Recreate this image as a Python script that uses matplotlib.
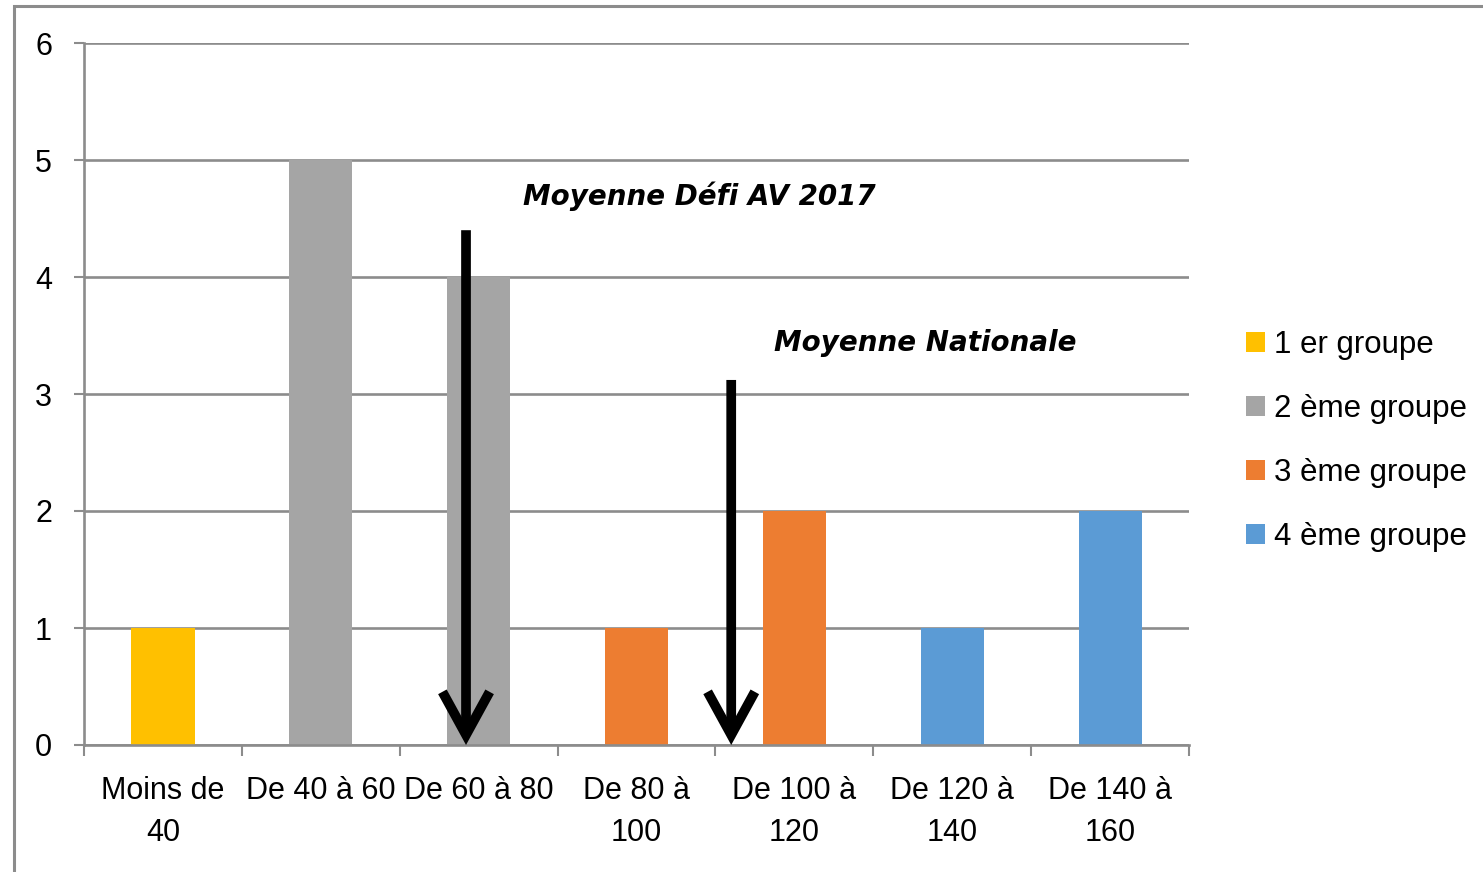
import matplotlib
matplotlib.use("Agg")
import matplotlib.pyplot as plt
from matplotlib.patches import Rectangle, Patch
import numpy as np

categories = ["Moins de\n40", "De 40 à 60", "De 60 à 80", "De 80 à\n100",
              "De 100 à\n120", "De 120 à\n140", "De 140 à\n160"]
groupe1 = [1, 0, 0, 0, 0, 0, 0]
groupe2 = [0, 5, 4, 0, 0, 0, 0]
groupe3 = [0, 0, 0, 1, 2, 0, 0]
groupe4 = [0, 0, 0, 0, 0, 1, 2]
series_names = ["1 er groupe", "2 ème groupe", "3 ème groupe", "4 ème groupe"]
colors = ["#FFC000", "#A5A5A5", "#ED7D31", "#5B9BD5"]

# annotation arrows (x position in category units, y top)
arrow_defi = (1.92, 4.40)
arrow_nat = (3.60, 3.12)

plt.rcParams['font.family'] = ['Liberation Sans', 'DejaVu Sans']
GRID = "#8C8C8C"

fig = plt.figure(figsize=(14.83, 8.72), dpi=100)
ax = fig.add_axes([84/1483, 1-745/872, (1189-84)/1483, (745-43)/872])

x = np.arange(len(categories))
bottom = np.zeros(len(categories))
for vals, name, c in zip([groupe1, groupe2, groupe3, groupe4], series_names, colors):
    ax.bar(x, vals, width=0.4, bottom=bottom, color=c, label=name, zorder=2)
    bottom += np.array(vals)

ax.set_xlim(-0.5, len(categories) - 0.5)
ax.set_ylim(0, 6)
ax.set_yticks(range(0, 7))
ax.yaxis.grid(True, color=GRID, linewidth=1.9)
ax.set_axisbelow(True)

for s in ["top", "right"]:
    ax.spines[s].set_visible(False)
for s in ["left", "bottom"]:
    ax.spines[s].set_color(GRID)
    ax.spines[s].set_linewidth(1.9)

ax.set_xticks(x)
ax.set_xticklabels(categories, fontsize=22, linespacing=1.55)
ax.tick_params(axis="x", which="major", length=0, pad=22)
ax.set_xticks(np.arange(-0.5, len(categories) + 0.5, 1), minor=True)
ax.tick_params(axis="x", which="minor", length=8, width=1.5, color=GRID)
ax.tick_params(axis="y", length=7, width=1.5, color=GRID, pad=16, labelsize=22)

for (ax_x, ax_y) in [arrow_defi, arrow_nat]:
    ax.annotate("", xy=(ax_x, 0), xytext=(ax_x, ax_y),
                arrowprops=dict(arrowstyle="->,head_length=31,head_width=17",
                                mutation_scale=1, lw=7, color="black",
                                shrinkA=0, shrinkB=0, joinstyle="miter",
                                capstyle="butt"),
                zorder=5)

ax.text(3.40, 4.69, "Moyenne Défi AV 2017", fontsize=20, fontweight="bold",
        fontstyle="italic", ha="center", va="center", zorder=6,
        family="DejaVu Sans")
ax.text(4.83, 3.44, "Moyenne Nationale", fontsize=20, fontweight="bold",
        fontstyle="italic", ha="center", va="center", zorder=6,
        family="DejaVu Sans")

handles = [Patch(facecolor=c, edgecolor="none") for c in colors]
fig.legend(handles, series_names, loc="center left",
           bbox_to_anchor=(1246/1483, 1-441/872), frameon=False,
           fontsize=22.5, handlelength=0.61, handleheight=0.61,
           handletextpad=0.29, labelspacing=1.08, borderpad=0, borderaxespad=0)

fig.patches.append(Rectangle((14/1483, -0.1), 1.2, 1.1 - 6/872,
                             transform=fig.transFigure, fill=False,
                             edgecolor=GRID, linewidth=2.2))

fig.savefig("out.png", dpi=100, facecolor="white")
